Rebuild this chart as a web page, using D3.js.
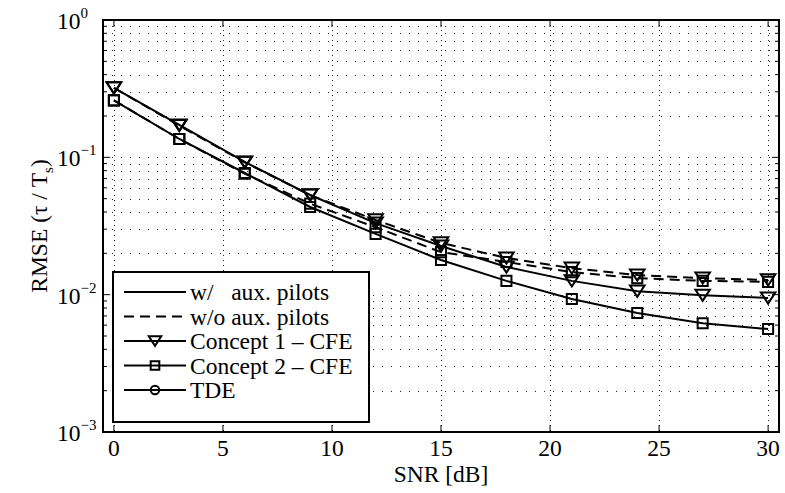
<!DOCTYPE html>
<html>
<head>
<meta charset="utf-8">
<script src="https://cdn.jsdelivr.net/npm/d3@7"></script>
<style>
body { margin: 0; background: #fff; }
text { font-family: "Liberation Serif", "Times New Roman", serif; fill: #000; }
</style>
</head>
<body>
<svg id="svgCanvas" width="785" height="493"></svg>
<script>
// SNR points (dB)
var snr = [0, 3, 6, 9, 12, 15, 18, 21, 24, 27, 30];

// RMSE values
var concept1With    = [0.32, 0.172, 0.0925, 0.0532, 0.0332, 0.0226, 0.0159, 0.0126, 0.0106, 0.0099, 0.00946];
var concept1Without = [0.32, 0.170, 0.0920, 0.0530, 0.0350, 0.0238, 0.0185, 0.0156, 0.0139, 0.0132, 0.0128];
var concept2With    = [0.26, 0.136, 0.0769, 0.0435, 0.0277, 0.0179, 0.0126, 0.00929, 0.00735, 0.0062, 0.00562];
var concept2Without = [0.26, 0.136, 0.0760, 0.0460, 0.0310, 0.0204, 0.0173, 0.0146, 0.0132, 0.0126, 0.0124];

var xTicks = [0, 5, 10, 15, 20, 25, 30];
var yDecades = [-3, -2, -1, 0];
var legendLabels = ["w/   aux. pilots", "w/o aux. pilots", "Concept 1 \u2013 CFE", "Concept 2 \u2013 CFE", "TDE"];

var pLeft = 103, pRight = 779, pTop = 20, pBottom = 432;

var canvas = d3.select("#svgCanvas");

var x = d3.scaleLinear().domain([-0.5, 30.5]).range([pLeft, pRight]);
var y = d3.scaleLog().domain([1e-3, 1]).range([pBottom, pTop]);

// grid - horizontal dotted at every minor value
var minorVals = [];
for(var k=-3; k<0; k++)
{
    for(var m=1; m<=9; m++)
        minorVals.push(m*Math.pow(10, k));
}

canvas.append("g").selectAll("line")
    .data(minorVals)
    .enter().append("line")
    .attr("x1", pLeft).attr("x2", pRight)
    .attr("y1", function(d){ return Math.round(y(d)) + 0.5; })
    .attr("y2", function(d){ return Math.round(y(d)) + 0.5; })
    .attr("stroke", "#222")
    .attr("stroke-width", 1)
    .attr("stroke-dasharray", "1,8");

canvas.append("g").selectAll("line")
    .data(xTicks)
    .enter().append("line")
    .attr("x1", function(d){ return Math.round(x(d)) + 0.5; })
    .attr("x2", function(d){ return Math.round(x(d)) + 0.5; })
    .attr("y1", pTop).attr("y2", pBottom)
    .attr("stroke", "#222")
    .attr("stroke-width", 1)
    .attr("stroke-dasharray", "1,4");

// ticks
var ticks = canvas.append("g").attr("stroke", "#000").attr("stroke-width", 1);
xTicks.forEach(function(t){
    ticks.append("line").attr("x1", x(t)).attr("x2", x(t)).attr("y1", pBottom).attr("y2", pBottom - 7);
    ticks.append("line").attr("x1", x(t)).attr("x2", x(t)).attr("y1", pTop).attr("y2", pTop + 7);
});
minorVals.forEach(function(v, i){
    var len = (i % 9 == 0) ? 7 : 4;
    ticks.append("line").attr("x1", pLeft).attr("x2", pLeft + len).attr("y1", y(v)).attr("y2", y(v));
    ticks.append("line").attr("x1", pRight).attr("x2", pRight - len).attr("y1", y(v)).attr("y2", y(v));
});

// series
var line = d3.line()
    .x(function(d){ return x(d[0]); })
    .y(function(d){ return y(d[1]); });

var series = [
    {vals: concept1With,    dash: null,  marker: "tri"},
    {vals: concept2With,    dash: null,  marker: "sq"},
    {vals: concept1Without, dash: "10,6", marker: "tri"},
    {vals: concept2Without, dash: "10,6", marker: "sq"}
];

function markerPath(type, s)
{
    if(type == "tri")
        return "M" + (-s*0.52) + "," + (-s*0.4) + "L" + (s*0.52) + "," + (-s*0.4) + "L0," + (s*0.4) + "Z";
    if(type == "sq")
        return "M" + (-s*0.36) + "," + (-s*0.36) + "h" + (s*0.72) + "v" + (s*0.72) + "h" + (-s*0.72) + "Z";
    return "M" + (-s*0.35) + ",0a" + (s*0.35) + "," + (s*0.35) + " 0 1,0 " + (s*0.7) + ",0a" + (s*0.35) + "," + (s*0.35) + " 0 1,0 " + (-s*0.7) + ",0Z";
}

series.forEach(function(s){
    var pts = snr.map(function(v, i){ return [v, s.vals[i]]; });
    canvas.append("path")
        .attr("d", line(pts))
        .attr("fill", "none")
        .attr("stroke", "#000")
        .attr("stroke-width", 2)
        .attr("stroke-dasharray", s.dash);
    canvas.append("g").selectAll("path")
        .data(pts)
        .enter().append("path")
        .attr("transform", function(d){ return "translate(" + x(d[0]) + "," + y(d[1]) + ")"; })
        .attr("d", markerPath(s.marker, 14))
        .attr("fill", "none")
        .attr("stroke", "#000")
        .attr("stroke-width", 2);
});

// axes box
canvas.append("rect")
    .attr("x", pLeft).attr("y", pTop)
    .attr("width", pRight - pLeft).attr("height", pBottom - pTop)
    .attr("fill", "none").attr("stroke", "#000").attr("stroke-width", 2);

// tick labels
xTicks.forEach(function(t){
    canvas.append("text")
        .attr("x", x(t)).attr("y", 456)
        .attr("text-anchor", "middle")
        .style("font-size", "23.5px")
        .text(t);
});
yDecades.forEach(function(p){
    var lbl = canvas.append("text")
        .attr("x", 57).attr("y", y(Math.pow(10, p)) + 9)
        .style("font-size", "23.5px");
    lbl.append("tspan").text("10");
    lbl.append("tspan").attr("dy", -11).style("font-size", "15px").text(p == 0 ? "0" : "\u2212" + (-p));
});

// axis labels
canvas.append("text")
    .attr("x", 441).attr("y", 482)
    .attr("text-anchor", "middle")
    .style("font-size", "23.5px")
    .text("SNR [dB]");

var yl = canvas.append("text")
    .attr("transform", "translate(47,226) rotate(-90)")
    .attr("text-anchor", "middle")
    .style("font-size", "23.5px");
yl.append("tspan").text("RMSE (\u03c4 / T");
yl.append("tspan").attr("dy", 6).style("font-size", "15px").text("s");
yl.append("tspan").attr("dy", -6).text(")");

// legend
var legend = canvas.append("g");
legend.append("rect")
    .attr("x", 113).attr("y", 272)
    .attr("width", 256).attr("height", 150)
    .attr("fill", "#fff").attr("stroke", "#000").attr("stroke-width", 2);

var legendDash = [null, "10,6", null, null, null];
var legendMarker = [null, null, "tri", "sq", "circ"];

legendLabels.forEach(function(lab, i){
    var ly = 292 + i*24.5;
    legend.append("line")
        .attr("x1", 124).attr("x2", 186)
        .attr("y1", ly).attr("y2", ly)
        .attr("stroke", "#000").attr("stroke-width", 2)
        .attr("stroke-dasharray", legendDash[i]);
    if(legendMarker[i])
        legend.append("path")
            .attr("transform", "translate(155," + ly + ")")
            .attr("d", markerPath(legendMarker[i], 12))
            .attr("fill", "none").attr("stroke", "#000").attr("stroke-width", 2);
    legend.append("text")
        .attr("x", 190).attr("y", ly + 8)
        .attr("xml:space", "preserve")
        .style("white-space", "pre")
        .style("font-size", "23.5px")
        .text(lab);
});
</script>
</body>
</html>
